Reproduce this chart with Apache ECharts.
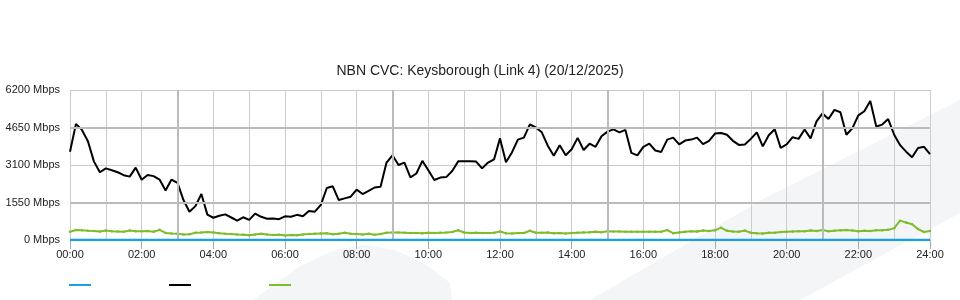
<!DOCTYPE html>
<html>
<head>
<meta charset="utf-8">
<script src="https://cdn.jsdelivr.net/npm/echarts@6/dist/echarts.min.js"></script>
<style>html,body{margin:0;padding:0;background:#fff;}#chart{width:960px;height:300px;}</style>
</head>
<body>
<div id="chart"></div>
<script>
// 10-minute samples, 00:00 .. 24:00
const times = [];
for (let m = 0; m <= 1440; m += 10) {
  times.push(String(Math.floor(m / 60)).padStart(2, '0') + ':' + String(m % 60).padStart(2, '0'));
}
const xTickLabels = ['00:00','02:00','04:00','06:00','08:00','10:00','12:00','14:00','16:00','18:00','20:00','22:00','24:00'];
const yTickValues = [0, 1550, 3100, 4650, 6200];
const seriesNames = ['Series A', 'Series B', 'Series C'];

const blueValues = [
  0,0,0,0,0,0, 0,0,0,0,0,0, 0,0,0,0,0,0, 0,0,0,0,0,0,
  0,0,0,0,0,0, 0,0,0,0,0,0, 0,0,0,0,0,0, 0,0,0,0,0,0,
  0,0,0,0,0,0, 0,0,0,0,0,0, 0,0,0,0,0,0, 0,0,0,0,0,0,
  0,0,0,0,0,0, 0,0,0,0,0,0, 0,0,0,0,0,0, 0,0,0,0,0,0,
  0,0,0,0,0,0, 0,0,0,0,0,0, 0,0,0,0,0,0, 0,0,0,0,0,0,
  0,0,0,0,0,0, 0,0,0,0,0,0, 0,0,0,0,0,0, 0,0,0,0,0,0,
  0
];
const blackValues = [
  3650,4800,4550,4080,3250,2800,
  2960,2880,2800,2680,2620,2990,
  2490,2690,2640,2500,2050,2500,
  2360,1650,1170,1400,1900,1050,
  920,1000,1060,930,800,940,
  830,1090,960,880,890,860,
  980,960,1040,980,1200,1170,
  1450,2150,2220,1650,1720,1790,
  2080,1900,2030,2170,2200,3200,
  3500,3100,3200,2590,2750,3270,
  2880,2480,2580,2600,2850,3250,
  3250,3260,3240,2960,3200,3330,
  4200,3210,3620,4150,4230,4780,
  4650,4450,3900,3480,3920,3500,
  3750,4220,3720,3980,3850,4290,
  4480,4570,4450,4550,3600,3500,
  3850,3980,3700,3640,4150,4230,
  3950,4110,4150,4230,3960,4100,
  4400,4420,4350,4100,3930,3950,
  4180,4450,3870,4330,4580,3810,
  3950,4250,4180,4570,4200,4900,
  5230,5000,5380,5280,4350,4620,
  5150,5320,5750,4690,4770,5000,
  4350,3920,3650,3420,3800,3850,
  3550
];
const greenValues = [
  340,410,400,380,370,350,
  390,360,350,340,390,360,
  360,370,340,420,290,270,
  260,230,240,300,310,330,
  310,280,260,250,230,220,
  200,230,260,230,210,220,
  190,210,200,230,250,260,
  270,280,240,260,300,260,
  250,230,260,220,250,300,
  310,310,300,290,290,280,
  300,290,300,310,330,400,
  310,290,300,290,290,300,
  350,280,270,290,290,380,
  300,300,310,280,290,270,
  290,300,310,320,340,320,
  360,350,350,340,340,340,
  340,340,340,340,410,280,
  310,340,360,350,390,370,
  400,510,380,350,340,390,
  300,280,270,300,300,330,
  340,350,360,360,390,370,
  410,360,380,400,410,390,
  360,380,370,400,400,420,
  490,800,720,650,450,330,
  370
];
const majorX = ['03:00','09:00','15:00','21:00'];
const majorY = [1550, 4650];

const FONT = '"Liberation Sans", Arial, sans-serif';
const chart = echarts.init(document.getElementById('chart'), null, {renderer: 'canvas'});
const isLabelIdx = (i) => xTickLabels.indexOf(times[i]) >= 0;

chart.setOption({
  animation: false,
  backgroundColor: '#ffffff',
  textStyle: {fontFamily: FONT},
  title: {
    text: 'NBN CVC: Keysborough (Link 4) (20/12/2025)',
    left: 'center', top: 59,
    textStyle: {fontFamily: FONT, fontSize: 14, fontWeight: 'normal', color: '#222'}
  },
  graphic: {elements: [
    {type: 'polygon', z: -100, silent: true,
     shape: {points: [[590,300],[693,240],[765,198],[960,100],[960,213],[910,240],[800,300]]},
     style: {fill: '#f4f5f7'}},
    {type: 'polygon', z: -100, silent: true,
     shape: {points: [[253,300],[300,266],[335,250],[365,245],[395,250],[425,264],[450,283],[452,300]]},
     style: {fill: '#f4f5f7'}}
  ]},
  legend: seriesNames.map((n, i) => ({
    data: [n], left: 69 + i * 100, top: 284, padding: 0,
    icon: 'rect', itemWidth: 22, itemHeight: 2,
    formatter: () => '', selectedMode: false,
    textStyle: {fontSize: 11}
  })),
  grid: {left: 70, right: 30, top: 90, bottom: 60, containLabel: false},
  xAxis: {
    type: 'category', data: times, boundaryGap: false,
    axisLine: {show: false},
    axisTick: {show: true, interval: (i) => isLabelIdx(i), length: 9, lineStyle: {color: '#aaa'}},
    axisLabel: {interval: (i) => isLabelIdx(i), color: '#222', fontSize: 11, fontFamily: FONT, margin: 9},
    splitLine: {show: true, interval: (i) => i % 6 === 0, lineStyle: {color: '#cccccc', width: 1}}
  },
  yAxis: {
    type: 'value', min: 0, max: 6200, interval: 1550,
    axisLine: {show: false}, axisTick: {show: false},
    axisLabel: {formatter: (v) => String(v) + ' Mbps', color: '#222', fontSize: 11, fontFamily: FONT, margin: 10},
    splitLine: {show: true, lineStyle: {color: '#cccccc', width: 1}}
  },
  series: [
    {name: seriesNames[0], type: 'line', data: blueValues, z: 5, showSymbol: false,
     lineStyle: {color: '#1a9fe0', width: 2.5}, itemStyle: {color: '#1a9fe0'}},
    {name: seriesNames[1], type: 'line', data: blackValues, z: 4, showSymbol: false,
     lineStyle: {color: '#000000', width: 2}, itemStyle: {color: '#000000'}},
    {name: seriesNames[2], type: 'line', data: greenValues, z: 3, showSymbol: true, symbol: 'circle', symbolSize: 2.5,
     lineStyle: {color: '#7dbd2b', width: 2}, itemStyle: {color: '#7dbd2b'}},
    {name: 'grid-major', type: 'line', data: [], z: 1, silent: true,
     markLine: {silent: true, symbol: 'none', label: {show: false}, animation: false,
       lineStyle: {color: '#bbbbbb', width: 2, type: 'solid'},
       data: majorX.map(t => ({xAxis: t})).concat(majorY.map(v => ({yAxis: v})))}}
  ]
});
</script>
</body>
</html>
